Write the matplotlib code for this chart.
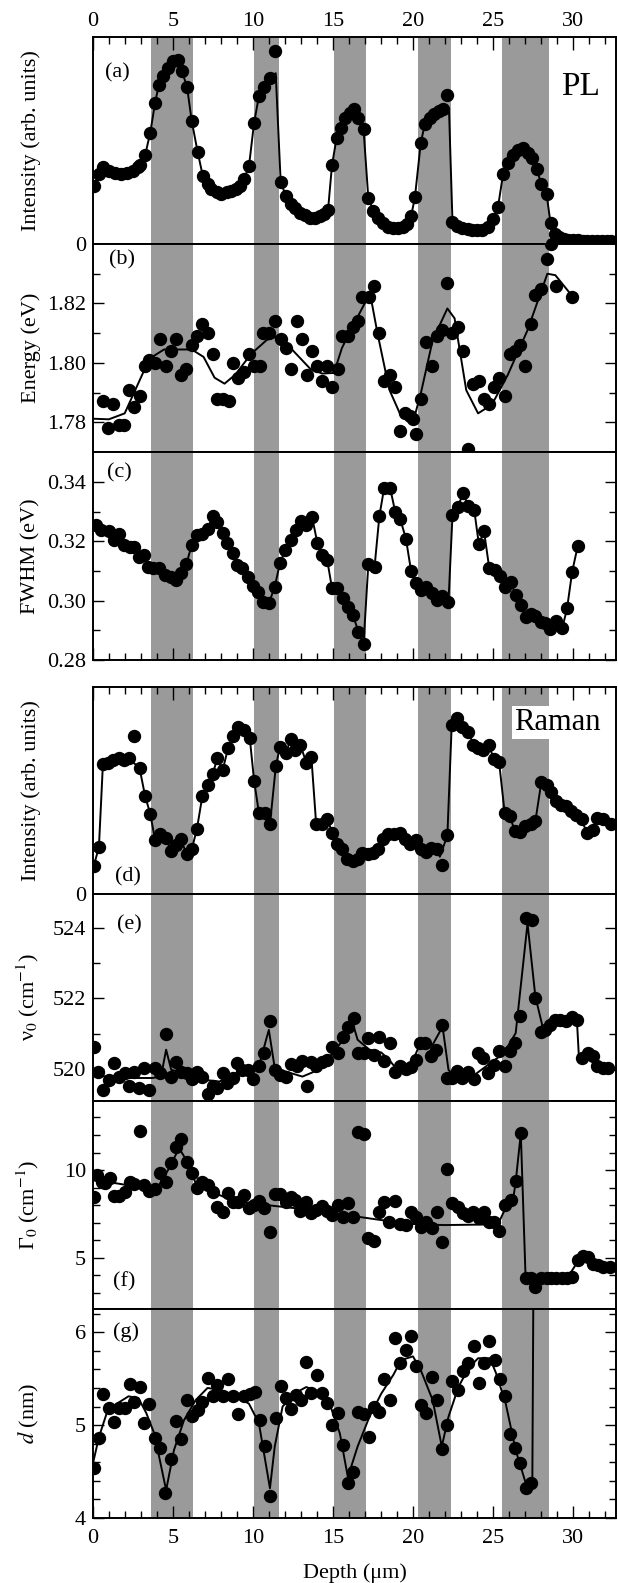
import numpy as np
import matplotlib
matplotlib.use('Agg')
import matplotlib.pyplot as plt
from matplotlib.ticker import MultipleLocator, FixedLocator

plt.rcParams['font.family'] = ['Liberation Serif', 'DejaVu Serif']
plt.rcParams['mathtext.fontset'] = 'stix'
plt.rcParams['font.size'] = 16

# ============================================================
# DATOS
# ============================================================
# bandas grises (um)
band_lo = [3.65, 10.05, 15.09, 20.32, 25.56]
band_hi = [6.25, 11.65, 17.09, 22.37, 28.50]

# (a) PL intensidad: puntos sobre la linea, puntos sueltos y vertices sin punto
a_x = [0.07, 0.37, 0.62, 0.99, 1.36, 1.73, 2.10, 2.47, 2.79, 2.96, 3.26, 3.58, 3.88, 4.12, 4.40,
       4.69, 5.00, 5.31, 5.56, 5.88, 6.17, 6.54, 6.86, 7.16, 7.40, 7.73, 8.02, 8.35, 8.64, 8.96,
       9.21, 9.46, 9.75, 10.07, 10.37, 10.69, 11.06, 11.73, 12.05, 12.35, 12.64, 12.96, 13.28, 13.58, 13.90,
       14.20, 14.44, 14.69, 14.94, 15.23, 15.50, 15.75, 16.05, 16.30, 16.59, 16.91, 17.21, 17.53, 17.83, 18.15,
       18.47, 18.77, 19.09, 19.38, 19.63, 19.88, 20.12, 20.49, 20.74, 21.04, 21.31, 21.60, 21.90, 22.47, 22.77,
       23.09, 23.41, 23.70, 24.02, 24.32, 24.69, 24.99, 25.31, 25.63, 25.93, 26.25, 26.54, 26.86, 27.16, 27.41,
       27.73, 28.02, 28.35, 28.60, 28.89, 29.14, 29.43, 29.72, 30.01, 30.30, 30.60, 30.90, 31.20, 31.50, 31.80,
       32.10, 32.40]
a_y = [0.28, 0.337, 0.37, 0.353, 0.342, 0.337, 0.342, 0.353, 0.37, 0.38, 0.43, 0.538, 0.682, 0.77, 0.814,
       0.85, 0.883, 0.89, 0.835, 0.758, 0.594, 0.445, 0.33, 0.289, 0.268, 0.249, 0.241, 0.249, 0.257, 0.268,
       0.281, 0.316, 0.377, 0.586, 0.714, 0.759, 0.803, 0.30, 0.233, 0.193, 0.172, 0.152, 0.14, 0.128, 0.128,
       0.133, 0.144, 0.164, 0.382, 0.514, 0.562, 0.61, 0.634, 0.65, 0.61, 0.554, 0.22, 0.16, 0.128, 0.101,
       0.083, 0.075, 0.075, 0.08, 0.096, 0.133, 0.225, 0.49, 0.578, 0.61, 0.626, 0.642, 0.65, 0.104, 0.088,
       0.075, 0.072, 0.069, 0.069, 0.069, 0.08, 0.12, 0.177, 0.337, 0.393, 0.429, 0.454, 0.462, 0.441, 0.417,
       0.364, 0.289, 0.241, 0.10, 0.048, 0.032, 0.024, 0.02, 0.018, 0.017, 0.016, 0.015, 0.015, 0.014, 0.014,
       0.013, 0.013]
a_out_x = [11.36, 22.15, 28.66]
a_out_y = [0.931, 0.719, 0.0]
a_kink_x = [11.42, 22.25]
a_kink_y = [0.825, 0.655]

# (b) energia PL: puntos y ajuste
b_x = [0.62, 0.94, 1.28, 1.60, 1.93, 2.22, 2.59, 2.91, 3.26, 3.53, 3.88, 4.20, 4.57, 4.86, 5.19,
       5.48, 5.83, 6.17, 6.49, 6.84, 7.21, 7.53, 7.78, 8.15, 8.52, 8.77, 9.09, 9.43, 9.75, 10.07,
       10.44, 10.62, 10.99, 11.36, 11.73, 12.05, 12.35, 12.72, 13.04, 13.38, 13.70, 14.02, 14.32, 14.64, 14.96,
       15.31, 15.56, 15.93, 16.25, 16.59, 16.84, 17.23, 17.58, 17.90, 18.22, 18.57, 18.89, 19.21, 19.51, 19.83,
       20.00, 20.20, 20.49, 20.81, 21.16, 21.48, 21.80, 22.10, 22.47, 22.79, 23.14, 23.46, 23.78, 24.12, 24.44,
       24.77, 25.06, 25.38, 25.73, 26.05, 26.37, 26.67, 26.99, 27.36, 27.65, 28.02, 28.35, 28.64, 28.96, 29.95]
b_y = [1.787, 1.778, 1.786, 1.779, 1.779, 1.791, 1.785, 1.789, 1.799, 1.801, 1.800, 1.808, 1.799, 1.804, 1.808,
       1.796, 1.798, 1.806, 1.809, 1.813, 1.810, 1.803, 1.788, 1.788, 1.787, 1.800, 1.795, 1.797, 1.803, 1.799,
       1.799, 1.810, 1.810, 1.814, 1.808, 1.805, 1.798, 1.814, 1.808, 1.796, 1.804, 1.799, 1.794, 1.799, 1.792,
       1.798, 1.809, 1.809, 1.812, 1.814, 1.822, 1.822, 1.826, 1.810, 1.794, 1.796, 1.792, 1.777, 1.783, 1.782,
       1.781, 1.776, 1.788, 1.807, 1.799, 1.809, 1.811, 1.827, 1.810, 1.812, 1.804, 1.771, 1.793, 1.794, 1.788,
       1.786, 1.792, 1.795, 1.789, 1.803, 1.804, 1.806, 1.799, 1.813, 1.823, 1.825, 1.835, 1.840, 1.826, 1.822]
bl_x = [0, 0.99, 1.98, 3.2, 3.7, 4.44, 6.17, 6.91, 7.6, 8.22, 8.89, 9.88, 10.86, 11.48, 12.35,
        13.58, 14.32, 15.06, 15.56, 16.3, 17.04, 17.4, 17.78, 18.52, 19.26, 20.0, 20.49, 21.23, 22.15, 22.6,
        23.33, 24.07, 24.94, 25.93, 27.16, 28.4, 28.9, 29.95]
bl_y = [1.7812, 1.781, 1.783, 1.7975, 1.802, 1.8045, 1.8045, 1.802, 1.795, 1.793, 1.796, 1.803, 1.8077, 1.8088, 1.805,
        1.798, 1.7964, 1.7966, 1.805, 1.813, 1.8206, 1.821, 1.81, 1.791, 1.782, 1.780, 1.7897, 1.8076, 1.8183, 1.815,
        1.7908, 1.783, 1.786, 1.796, 1.811, 1.830, 1.8295, 1.8225]

# (c) FWHM PL
c_x = [0.2, 0.49, 0.99, 1.31, 1.6, 1.93, 2.3, 2.59, 2.89, 3.21, 3.46, 3.78, 4.15, 4.52, 4.86,
       5.19, 5.51, 5.83, 6.17, 6.49, 6.84, 7.16, 7.48, 7.78, 8.1, 8.4, 8.72, 9.01, 9.33, 9.68,
       10.0, 10.32, 10.62, 10.99, 11.36, 11.68, 12.02, 12.35, 12.67, 13.01, 13.33, 13.7, 14.02, 14.32, 14.64,
       14.94, 15.26, 15.6, 15.93, 16.25, 16.59, 16.91, 17.21, 17.6, 17.9, 18.2, 18.57, 18.89, 19.21, 19.56,
       19.88, 20.17, 20.49, 20.81, 21.16, 21.48, 21.8, 22.22, 22.47, 22.79, 23.14, 23.46, 23.83, 24.12, 24.44,
       24.77, 25.11, 25.43, 25.75, 26.1, 26.42, 26.74, 27.04, 27.36, 27.65, 27.98, 28.27, 28.59, 28.96, 29.33,
       29.63, 29.95, 30.3]
c_y = [0.3255, 0.3239, 0.3236, 0.3205, 0.3225, 0.3188, 0.3182, 0.318, 0.3149, 0.3154, 0.3115, 0.3109, 0.3109, 0.3087, 0.3081,
       0.307, 0.3092, 0.3123, 0.3188, 0.3222, 0.3224, 0.3241, 0.3286, 0.3267, 0.3227, 0.3194, 0.316, 0.312, 0.3111, 0.3081,
       0.3051, 0.303, 0.2997, 0.2991, 0.3047, 0.3126, 0.3171, 0.3205, 0.3239, 0.327, 0.3256, 0.3281, 0.3196, 0.3154, 0.3137,
       0.3042, 0.3042, 0.3008, 0.298, 0.2952, 0.2895, 0.2854, 0.3124, 0.3115, 0.3286, 0.3381, 0.3381, 0.33, 0.3275, 0.3209,
       0.3101, 0.3061, 0.3036, 0.3047, 0.3027, 0.3002, 0.3016, 0.2997, 0.3289, 0.3317, 0.3362, 0.332, 0.3306, 0.319, 0.3235,
       0.3109, 0.3104, 0.3083, 0.3047, 0.3064, 0.3019, 0.2985, 0.2946, 0.2955, 0.2949, 0.2929, 0.2926, 0.2903, 0.2932, 0.2907,
       0.2974, 0.3098, 0.3185]

# (d) Raman intensidad
d_x = [0.05, 0.37, 0.62, 0.94, 1.28, 1.6, 1.93, 2.22, 2.91, 3.26, 3.58, 3.88, 4.2, 4.57, 4.86,
       5.19, 5.48, 5.85, 6.17, 6.49, 6.84, 7.16, 7.48, 7.78, 8.1, 8.44, 8.77, 9.09, 9.43, 9.8,
       10.07, 10.37, 10.74, 11.06, 11.43, 11.68, 12.05, 12.35, 12.64, 12.96, 13.33, 13.65, 13.95, 14.32, 14.64,
       14.96, 15.26, 15.56, 15.85, 16.22, 16.54, 16.84, 17.21, 17.53, 17.83, 18.15, 18.47, 18.84, 19.19, 19.51,
       19.83, 20.17, 20.49, 20.81, 21.11, 21.48, 22.15, 22.42, 22.77, 23.09, 23.46, 23.78, 24.07, 24.4, 24.74,
       25.06, 25.38, 25.73, 26.05, 26.37, 26.67, 26.99, 27.36, 27.65, 28.02, 28.35, 28.64, 28.96, 29.26, 29.58,
       29.88, 30.2, 30.54, 30.86, 31.23, 31.53, 31.85, 32.35]
d_y = [0.136, 0.227, 0.629, 0.635, 0.645, 0.656, 0.648, 0.656, 0.608, 0.472, 0.387, 0.261, 0.288, 0.272, 0.208,
       0.235, 0.267, 0.192, 0.216, 0.312, 0.475, 0.528, 0.581, 0.656, 0.597, 0.704, 0.763, 0.805, 0.792, 0.752,
       0.547, 0.392, 0.392, 0.336, 0.619, 0.709, 0.68, 0.747, 0.696, 0.72, 0.635, 0.661, 0.336, 0.336, 0.363,
       0.296, 0.24, 0.216, 0.168, 0.16, 0.171, 0.2, 0.192, 0.197, 0.219, 0.264, 0.288, 0.288, 0.296, 0.267,
       0.24, 0.261, 0.219, 0.203, 0.224, 0.219, 0.283, 0.816, 0.848, 0.808, 0.784, 0.72, 0.707, 0.696, 0.72,
       0.651, 0.64, 0.392, 0.376, 0.304, 0.299, 0.328, 0.336, 0.352, 0.539, 0.528, 0.491, 0.451, 0.432, 0.424,
       0.403, 0.384, 0.36, 0.296, 0.309, 0.368, 0.36, 0.336]
d_out_x = [2.59, 21.80]
d_out_y = [0.763, 0.139]
d_kink_x = [21.68]
d_kink_y = [0.18]

# (e) nu_0 Raman
e_x = [0.07, 0.3, 0.62, 0.99, 1.31, 1.6, 1.98, 2.22, 2.59, 2.89, 3.21, 3.53, 3.88, 4.2, 4.57,
       4.86, 5.19, 5.51, 5.85, 6.17, 6.49, 6.84, 7.16, 7.48, 7.78, 8.1, 8.4, 8.72, 9.01, 9.33,
       9.68, 10.0, 10.37, 10.69, 11.06, 11.36, 11.68, 12.05, 12.35, 12.72, 13.04, 13.38, 13.65, 13.95, 14.32,
       14.64, 14.96, 15.31, 15.6, 15.93, 16.3, 16.59, 16.91, 17.21, 17.58, 17.9, 18.22, 18.57, 18.89, 19.21,
       19.56, 19.88, 20.17, 20.42, 20.74, 21.11, 21.43, 21.8, 22.1, 22.42, 22.77, 23.09, 23.46, 23.83, 24.07,
       24.4, 24.69, 25.06, 25.38, 25.75, 26.05, 26.37, 26.72, 27.04, 27.41, 27.65, 27.98, 28.27, 28.59, 28.89,
       29.21, 29.56, 29.93, 30.25, 30.57, 30.91, 31.23, 31.53, 31.85, 32.22]
e_y = [520.64, 519.91, 519.42, 519.7, 520.17, 519.79, 519.89, 519.53, 519.93, 519.46, 520.03, 519.4, 520.03, 519.89, 520.99,
       519.79, 520.19, 519.93, 519.89, 519.72, 519.91, 519.79, 519.3, 519.53, 519.46, 519.89, 519.6, 519.75, 520.17, 519.98,
       519.98, 519.72, 520.08, 520.45, 521.35, 519.98, 519.84, 519.79, 520.15, 520.08, 520.22, 519.53, 520.19, 520.08, 520.19,
       520.26, 520.64, 520.45, 520.92, 521.2, 521.44, 520.45, 520.45, 520.88, 520.4, 520.92, 520.22, 520.75, 519.91, 520.09,
       520.0, 520.06, 520.26, 520.73, 520.73, 520.36, 520.55, 521.25, 519.75, 519.75, 519.96, 519.75, 519.93, 519.72, 520.45,
       520.31, 519.89, 520.12, 520.5, 520.08, 520.5, 520.75, 521.49, 524.26, 524.22, 522.0, 521.04, 521.11, 521.25, 521.39,
       521.39, 521.35, 521.46, 521.39, 520.31, 520.47, 520.38, 520.08, 520.03, 520.03]
el_x = [0, 1.48, 3.7, 4.25, 4.57, 4.89, 5.68, 6.91, 7.9, 9.38, 10.37, 10.99, 11.36, 12.35, 13.09,
        13.83, 14.81, 15.8, 16.3, 16.54, 17.28, 18.02, 18.52, 19.01, 19.75, 20.37, 21.23, 21.85, 22.22, 22.59,
        23.7, 24.69, 25.68, 26.42, 27.16, 27.65, 28.15, 28.64, 30.25, 30.37, 31.11, 31.6, 32.6]
el_y = [519.84, 519.75, 519.75, 519.79, 520.55, 519.98, 519.89, 519.7, 519.65, 519.98, 520.09, 521.11, 520.03, 519.89, 519.79,
        519.93, 520.36, 520.92, 521.2, 520.83, 520.55, 520.47, 520.26, 519.98, 519.98, 520.64, 520.69, 521.2, 519.98, 519.79,
        519.79, 520.12, 520.45, 521.02, 524.12, 522.05, 521.11, 521.3, 521.35, 520.36, 520.36, 520.08, 519.98]

# (f) Gamma_0 Raman
f_x = [0.07, 0.25, 0.54, 0.74, 1.04, 1.31, 1.6, 1.98, 2.3, 2.59, 2.91, 3.21, 3.53, 3.88, 4.2,
       4.57, 4.86, 5.19, 5.51, 5.88, 6.17, 6.49, 6.84, 7.16, 7.48, 7.78, 8.15, 8.44, 8.77, 9.09,
       9.43, 9.75, 10.07, 10.37, 10.69, 11.06, 11.36, 11.68, 12.05, 12.35, 12.64, 12.96, 13.33, 13.65, 13.95,
       14.32, 14.64, 14.94, 15.31, 15.6, 15.93, 16.25, 16.54, 16.91, 17.21, 17.58, 17.9, 18.2, 18.52, 18.89,
       19.21, 19.56, 19.88, 20.2, 20.49, 20.81, 21.16, 21.48, 21.8, 22.15, 22.47, 22.79, 23.14, 23.46, 23.78,
       24.12, 24.44, 24.77, 25.06, 25.38, 25.75, 26.1, 26.42, 26.74, 27.04, 27.36, 27.65, 27.98, 28.35, 28.64,
       28.96, 29.33, 29.63, 29.95, 30.3, 30.62, 30.94, 31.23, 31.56, 31.9, 32.3]
f_y = [8.48, 9.71, 9.33, 9.24, 9.56, 8.52, 8.52, 8.73, 9.33, 9.18, 12.24, 9.14, 8.8, 8.92, 9.81,
       9.33, 10.42, 11.33, 11.75, 10.48, 9.81, 8.99, 9.33, 9.14, 8.76, 7.91, 7.59, 8.67, 8.19, 8.19,
       8.57, 7.85, 8.0, 8.23, 7.85, 6.48, 8.61, 8.61, 8.19, 8.48, 8.29, 7.66, 8.19, 7.57, 7.72,
       7.97, 7.66, 7.43, 8.0, 7.34, 8.14, 7.34, 12.19, 12.03, 6.14, 5.95, 7.62, 8.16, 7.02, 8.23,
       6.9, 6.86, 7.62, 7.34, 6.77, 7.05, 6.67, 7.62, 5.91, 10.04, 8.1, 7.91, 7.53, 7.38, 7.62,
       7.24, 7.59, 7.05, 7.02, 6.54, 8.0, 8.29, 9.37, 12.09, 3.82, 3.82, 3.35, 3.82, 3.82, 3.82,
       3.82, 3.82, 3.82, 3.92, 4.87, 5.11, 5.06, 4.62, 4.58, 4.49, 4.49]
fl_x = [0, 1.48, 3.95, 4.69, 5.38, 5.88, 6.42, 7.16, 8.15, 9.38, 10.86, 12.35, 13.83, 15.56, 17.28,
        18.77, 20.25, 21.98, 25.31, 25.8, 26.3, 26.42, 26.74, 27.04, 27.36, 27.98, 29.63, 30.1, 30.5, 30.99,
        31.36, 32.6]
fl_y = [9.43, 9.24, 8.86, 10.0, 11.24, 10.51, 9.24, 8.86, 8.48, 8.19, 8.0, 7.85, 7.72, 7.47, 7.24,
        7.05, 6.9, 6.86, 6.9, 7.85, 8.57, 9.33, 12.09, 3.82, 3.8, 3.8, 3.82, 4.49, 5.15, 5.06,
        4.58, 4.49]

# (g) d (nm)
g_x = [0.07, 0.37, 0.62, 0.99, 1.31, 1.6, 1.98, 2.3, 2.59, 2.91, 3.21, 3.53, 3.88, 4.2, 4.52,
       4.86, 5.19, 5.51, 5.88, 6.17, 6.54, 6.84, 7.16, 7.48, 7.78, 8.1, 8.44, 8.77, 9.09, 9.43,
       9.8, 10.12, 10.42, 10.74, 11.06, 11.43, 11.73, 12.05, 12.35, 12.67, 13.01, 13.33, 13.65, 14.0, 14.32,
       14.64, 14.94, 15.31, 15.63, 15.93, 16.25, 16.59, 16.91, 17.23, 17.58, 17.9, 18.22, 18.57, 18.89, 19.21,
       19.56, 19.88, 20.17, 20.49, 20.81, 21.16, 21.48, 21.8, 22.15, 22.47, 22.79, 23.14, 23.46, 23.83, 24.12,
       24.44, 24.77, 25.11, 25.43, 25.75, 26.05, 26.37, 26.72, 27.04, 27.36]
g_y = [4.54, 4.86, 5.34, 5.18, 5.03, 5.18, 5.18, 5.44, 5.25, 5.41, 5.02, 5.23, 4.86, 4.75, 4.27,
       4.64, 5.04, 4.85, 5.27, 5.1, 5.16, 5.25, 5.51, 5.31, 5.43, 5.31, 5.5, 5.31, 5.12, 5.31,
       5.34, 5.36, 5.05, 4.77, 4.24, 5.08, 5.42, 5.29, 5.17, 5.32, 5.27, 5.68, 5.35, 5.54, 5.35,
       5.24, 5.0, 5.13, 4.79, 4.38, 4.5, 5.14, 5.12, 4.87, 5.19, 5.14, 5.5, 5.27, 5.94, 5.67,
       5.81, 5.96, 5.64, 5.22, 5.13, 5.52, 5.27, 4.74, 5.0, 5.47, 5.38, 5.58, 5.67, 5.85, 5.45,
       5.67, 5.91, 5.7, 5.5, 5.31, 4.9, 4.75, 4.59, 4.32, 4.38]
gl_x = [0, 0.37, 0.86, 1.48, 2.22, 2.84, 3.33, 3.83, 4.57, 5.06, 5.68, 6.42, 7.16, 7.9, 8.89,
        9.75, 10.37, 11.06, 11.36, 11.85, 12.59, 13.33, 14.07, 14.81, 15.43, 15.93, 16.54, 17.28, 18.02, 18.77,
        19.26, 20.0, 20.49, 21.23, 21.8, 22.22, 22.84, 23.46, 24.07, 24.81, 25.19, 25.8, 26.42, 27.04, 27.46,
        27.53]
gl_y = [4.59, 4.87, 5.13, 5.23, 5.31, 5.29, 5.13, 4.91, 4.3, 4.73, 5.05, 5.27, 5.4, 5.38, 5.32,
        5.23, 5.02, 4.32, 4.77, 5.2, 5.34, 5.41, 5.36, 5.22, 4.91, 4.44, 4.77, 5.09, 5.34, 5.54,
        5.7, 5.74, 5.59, 5.27, 4.77, 5.09, 5.41, 5.61, 5.72, 5.72, 5.56, 5.23, 4.73, 4.38, 4.37,
        6.6]

# ============================================================
# LAYOUT (pixeles de la figura 618 x 1583)
# ============================================================
W, H = 618, 1583
X0, X1 = 93, 616
XMAX = 32.69
edges = [(37, 244), (244, 452), (452, 660), (687, 894), (894, 1101), (1101, 1309), (1309, 1518)]

MS = 8.6
LW = 1.4

fig = plt.figure(figsize=(W / 100, H / 100), dpi=100)
axes = []
for top, bot in edges:
    ax = fig.add_axes([X0 / W, 1 - bot / H, (X1 - X0) / W, (bot - top) / H])
    axes.append(ax)

for i, ax in enumerate(axes):
    ax.set_xlim(0, XMAX)
    for lo, hi in zip(band_lo, band_hi):
        ax.axvspan(lo, hi, facecolor='#9a9a9a', edgecolor='none', zorder=0)
    for s in ax.spines.values():
        s.set_linewidth(1.4)
    ax.xaxis.set_major_locator(MultipleLocator(5))
    ax.xaxis.set_minor_locator(MultipleLocator(1))
    top_t = i in (0, 3)
    bot_t = i in (2, 6)
    ax.tick_params(axis='x', which='both', direction='in', top=top_t, bottom=bot_t,
                   labeltop=(i == 0), labelbottom=(i == 6))
    ax.tick_params(axis='x', which='major', length=9, width=1.0, pad=4 if i == 0 else 8)
    ax.tick_params(axis='x', which='minor', length=5, width=1.0)
    ax.tick_params(axis='y', which='both', direction='in', left=True, right=True, pad=5)
    ax.tick_params(axis='y', which='major', length=8, width=1.0)
    ax.tick_params(axis='y', which='minor', length=5, width=1.0)
    ax.yaxis.set_label_coords(-0.10, 0.5)


def dots(ax, x, y):
    ax.plot(x, y, 'o', color='black', ms=MS, zorder=3)


def curve(ax, x, y):
    ax.plot(x, y, '-', color='black', lw=LW, zorder=2)


def merged(x, y, kx, ky):
    xx = np.concatenate([x, kx])
    yy = np.concatenate([y, ky])
    o = np.argsort(xx)
    return xx[o], yy[o]


# (a)
ax = axes[0]
curve(ax, *merged(a_x, a_y, a_kink_x, a_kink_y))
dots(ax, a_x + a_out_x, a_y + a_out_y)
ax.set_ylim(0, 1)
ax.yaxis.set_major_locator(FixedLocator([0]))
ax.tick_params(axis='y', which='both', length=0)
ax.set_ylabel('Intensity (arb. units)')
ax.text(0.023, 0.826, '(a)', transform=ax.transAxes, va='center')
ax.text(30.5, 0.72, 'PL', fontsize=24, ha='center', va='baseline')

# (b)
ax = axes[1]
curve(ax, bl_x, bl_y)
dots(ax, b_x, b_y)
ax.set_ylim(1.770, 1.840)
ax.yaxis.set_major_locator(FixedLocator([1.78, 1.80, 1.82]))
ax.yaxis.set_minor_locator(FixedLocator([1.79, 1.81, 1.83]))
ax.set_yticklabels(['1.78', '1.80', '1.82'])
ax.set_ylabel('Energy (eV)')
ax.text(0.030, 0.923, '(b)', transform=ax.transAxes, va='center')

# (c)
ax = axes[2]
curve(ax, c_x, c_y)
dots(ax, c_x, c_y)
ax.set_ylim(0.28, 0.3502)
ax.yaxis.set_major_locator(FixedLocator([0.28, 0.30, 0.32, 0.34]))
ax.yaxis.set_minor_locator(FixedLocator([0.29, 0.31, 0.33]))
ax.set_yticklabels(['0.28', '0.30', '0.32', '0.34'])
ax.set_ylabel('FWHM (eV)')
ax.text(0.026, 0.898, '(c)', transform=ax.transAxes, va='center')

# (d)
ax = axes[3]
curve(ax, *merged(d_x, d_y, d_kink_x, d_kink_y))
dots(ax, d_x + d_out_x, d_y + d_out_y)
ax.set_ylim(0, 1)
ax.yaxis.set_major_locator(FixedLocator([0]))
ax.tick_params(axis='y', which='both', length=0)
ax.set_ylabel('Intensity (arb. units)')
ax.text(0.042, 0.084, '(d)', transform=ax.transAxes, va='center')
ax.text(29.0, 0.792, 'Raman', fontsize=22, ha='center', va='baseline', zorder=4,
        bbox=dict(facecolor='white', edgecolor='none', pad=1.5))

# (e)
ax = axes[4]
curve(ax, el_x, el_y)
dots(ax, e_x, e_y)
ax.set_ylim(519.1, 524.95)
ax.yaxis.set_major_locator(FixedLocator([520, 522, 524]))
ax.yaxis.set_minor_locator(FixedLocator([519, 521, 523]))
ax.set_ylabel('ν$_0$ (cm$^{-1}$)')
ax.text(0.045, 0.85, '(e)', transform=ax.transAxes, va='center')

# (f)
ax = axes[5]
curve(ax, fl_x, fl_y)
dots(ax, f_x, f_y)
ax.set_ylim(2.07, 13.94)
ax.yaxis.set_major_locator(FixedLocator([5, 10]))
ax.yaxis.set_minor_locator(MultipleLocator(1))
ax.set_ylabel('Γ$_0$ (cm$^{-1}$)')
ax.text(0.038, 0.131, '(f)', transform=ax.transAxes, va='center')

# (g)
ax = axes[6]
curve(ax, gl_x, gl_y)
dots(ax, g_x, g_y)
ax.set_ylim(4, 6.25)
ax.yaxis.set_major_locator(FixedLocator([4, 5, 6]))
ax.yaxis.set_minor_locator(MultipleLocator(0.2))
ax.set_ylabel('$d$ (nm)')
ax.text(0.038, 0.891, '(g)', transform=ax.transAxes, va='center')
ax.set_xlabel('Depth (μm)', labelpad=11)

fig.savefig('out.png', dpi=100)
